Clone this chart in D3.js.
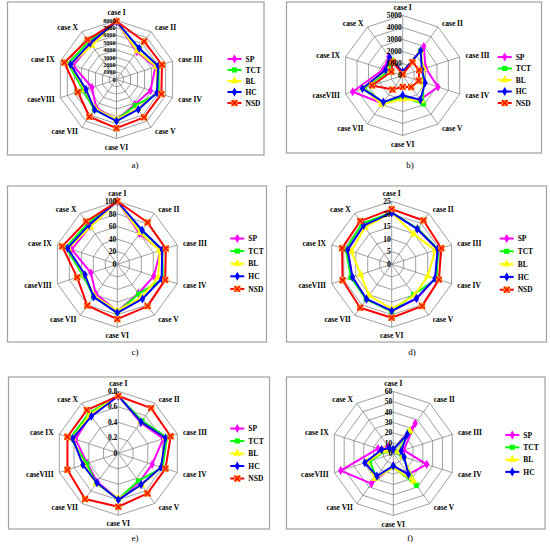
<!DOCTYPE html>
<html><head><meta charset="utf-8">
<script src="https://cdn.jsdelivr.net/npm/d3@7"></script>
<style>body{margin:0;background:#fff}svg{display:block}</style>
</head><body>
<svg id="chart" width="550" height="549"></svg>
<script>
const cases = ["case I","case II","case III","case IV","case V","case VI","case VII","caseVIII","case IX","case X"];
const seriesNames = ["SP","TCT","BL","HC","NSD"];
const seriesColors = ["#FF00FF","#00FF00","#FFFF00","#0000FF","#FF0000"];

// a)
const aSP  = [7850,4660,5550,4850,4200,5500,4700,3500,6200,5900];
const aTCT = [7850,5200,6000,6000,4350,5500,5100,4700,6900,6400];
const aBL  = [7850,4800,5700,5800,4900,5450,4900,4500,6600,5700];
const aHC  = [7850,5230,5940,5770,5020,5630,5060,4350,6560,6100];
const aNSD = [7900,6380,6480,6400,6340,6600,6250,5500,7430,6650];
const aTicks = [0,1000,2000,3000,4000,5000,6000,7000,8000];
// b)
const bSP  = [300,2980,2010,3090,2480,1870,2880,4380,1680,1960];
const bTCT = [300,2520,1780,1780,2930,1780,2800,3370,1220,1640];
const bBL  = [300,2520,1820,1820,2620,1960,2970,3460,1400,1680];
const bHC  = [300,2540,1680,1960,2510,1640,2740,3530,1500,1870];
const bNSD = [100,1380,1450,1400,1200,950,1450,2680,1000,1400];
const bTicks = [0,1000,2000,3000,4000,5000];
// c)
const cSP  = [100,60,72,61,57,75,58,44,76,74];
const cTCT = [100,66,75,76,58,76,64,57,86,80];
const cBL  = [100,62,71,68,65,74,62,55,82,73];
const cHC  = [100,67,75,74,68,77,64,54,83,77];
const cNSD = [100,82,81,80,82,87,81,67,92,84];
const cTicks = [0,20,40,60,80,100];
// d)
const dSP  = [20.5,17.3,19.2,18.2,16.8,18.6,17.1,16.4,18.4,19.0];
const dTCT = [20.5,17.5,19.4,18.7,14.8,18.7,17.2,17.0,19.1,20.0];
const dBL  = [20.5,14.8,18.2,15.1,15.3,17.7,15.3,13.0,16.9,18.1];
const dHC  = [20.5,17.3,19.2,18.1,16.7,18.5,17.0,16.4,18.4,19.0];
const dNSD = [21.9,21.5,20.7,19.7,20.5,21.2,21.3,20.5,20.7,21.2];
const dTicks = [0,5,10,15,20,25];
// e)
const eSP  = [0.74,0.49,0.61,0.46,0.46,0.59,0.46,0.42,0.58,0.61];
const eTCT = [0.74,0.52,0.66,0.60,0.44,0.59,0.48,0.43,0.65,0.64];
const eBL  = [0.74,0.50,0.64,0.58,0.51,0.58,0.48,0.47,0.62,0.62];
const eHC  = [0.74,0.50,0.64,0.58,0.50,0.60,0.47,0.48,0.62,0.59];
const eNSD = [0.74,0.72,0.71,0.64,0.64,0.69,0.73,0.69,0.69,0.69];
const eTicks = [0,0.2,0.4,0.6,0.8];
// f)
const fSP  = [4,36,10.6,34,25,12,36,53.5,15.6,8];
const fTCT = [4,26,5,9,38,13,28,24,8,5];
const fBL  = [4,27,6,10,33,13.5,30,27,9,6];
const fHC  = [4,23,8,11,25,12,27,29,12,6.5];
const fTicks = [0,10,20,30,40,50,60];

const panels = [
  {cap:"a)", box:[7.5,2,256.5,153], cx:116.5, cy:79.5, r:59, ticks:aTicks, tickFont:6.2, series:[aSP,aTCT,aBL,aHC,aNSD], legDx:111, legY0:59, legStep:11, capPos:[135,165]},
  {cap:"b)", box:[286.5,2,255,151], cx:402.7, cy:75.5, r:60, ticks:bTicks, tickFont:7.5, series:[bSP,bTCT,bBL,bHC,bNSD], legDx:95, legY0:57, legStep:11.5, capPos:[410,165]},
  {cap:"c)", box:[7.5,186,259,156], cx:117.3, cy:264.3, r:63, ticks:cTicks, tickFont:7.5, series:[cSP,cTCT,cBL,cHC,cNSD], legDx:113, legY0:238.5, legStep:12.6, capPos:[135,352]},
  {cap:"d)", box:[286.5,186,260,156], cx:391.7, cy:264.3, r:63, ticks:dTicks, tickFont:7.5, series:[dSP,dTCT,dBL,dHC,dNSD], legDx:108, legY0:238.5, legStep:12.8, capPos:[412,352]},
  {cap:"e)", box:[8.5,377,261,152], cx:118.3, cy:453.3, r:62, ticks:eTicks, tickFont:7.5, series:[eSP,eTCT,eBL,eHC,eNSD], legDx:112, legY0:428.5, legStep:12.5, capPos:[135,538]},
  {cap:"f)", box:[286.5,377,258.5,152], cx:393.3, cy:453.5, r:62, ticks:fTicks, tickFont:7.5, series:[fSP,fTCT,fBL,fHC], legDx:112, legY0:435, legStep:12.3, capPos:[410,538]}
];

const svg = d3.select("#chart");
const FONT = "'Liberation Serif','Times New Roman',serif";
const angle = d3.scaleLinear().domain([0, cases.length]).range([0, 2*Math.PI]);

function marker(g, k, x, y) {
  const col = seriesColors[k];
  const tr = `translate(${x},${y})`;
  if (k === 0) {
    g.append("path").attr("d", d3.symbol(d3.symbolDiamond, 24)()).attr("transform", tr).attr("fill", col);
  } else if (k === 1) {
    g.append("path").attr("d", d3.symbol(d3.symbolSquare, 26)()).attr("transform", tr).attr("fill", col);
  } else if (k === 2) {
    g.append("path").attr("d", d3.symbol(d3.symbolTriangle, 28)()).attr("transform", tr).attr("fill", col);
  } else if (k === 3) {
    g.append("path").attr("d", d3.symbol(d3.symbolDiamond, 24)()).attr("transform", tr).attr("fill", col);
  } else {
    g.append("path").attr("d", d3.symbol(d3.symbolSquare, 40)()).attr("transform", tr).attr("fill", "#FF8C1A");
    g.append("path").attr("d", d3.symbol(d3.symbolX, 22)()).attr("transform", tr).attr("fill", "none").attr("stroke", "#FF0000").attr("stroke-width", 1.2);
  }
}

panels.forEach(p => {
  const g = svg.append("g");
  g.append("rect").attr("x", p.box[0]).attr("y", p.box[1]).attr("width", p.box[2]).attr("height", p.box[3])
    .attr("fill", "#fff").attr("stroke", "#a0a0a0").attr("stroke-width", 1.2);
  const max = p.ticks[p.ticks.length - 1];
  const rs = d3.scaleLinear().domain([0, max]).range([0, p.r]);
  const pg = g.append("g").attr("transform", `translate(${p.cx},${p.cy})`);
  // rings
  p.ticks.slice(1).forEach(t => {
    pg.append("path")
      .attr("d", d3.lineRadial().angle((d, i) => angle(i)).radius(() => rs(t)).curve(d3.curveLinearClosed)(cases))
      .attr("fill", "none").attr("stroke", "#868686").attr("stroke-width", 0.8);
  });
  // spokes
  cases.forEach((c, i) => {
    const a = angle(i);
    pg.append("line").attr("x1", 0).attr("y1", 0)
      .attr("x2", p.r * Math.sin(a)).attr("y2", -p.r * Math.cos(a))
      .attr("stroke", "#868686").attr("stroke-width", 0.8);
  });
  // case labels
  cases.forEach((c, i) => {
    const a = angle(i);
    const s = Math.sin(a), co = Math.cos(a);
    const rr = p.r + 5;
    let x = rr * s, y = -rr * co;
    let anchor = "middle";
    if (s > 0.1) { anchor = "start"; x += 1; }
    else if (s < -0.1) { anchor = "end"; x -= 1; }
    let dy = "0.35em";
    if (i === 0) { dy = "-0.05em"; }
    if (i === cases.length / 2) { dy = "0.8em"; }
    pg.append("text").attr("x", x).attr("y", y).attr("dy", dy).attr("text-anchor", anchor)
      .attr("font-family", FONT).attr("font-weight", "bold").attr("font-size", 7.5).attr("fill", "#000").text(c);
  });
  // series
  p.series.forEach((vals, k) => {
    const line = d3.lineRadial().angle((d, i) => angle(i)).radius(d => rs(d)).curve(d3.curveLinearClosed);
    pg.append("path").attr("d", line(vals)).attr("fill", "none")
      .attr("stroke", seriesColors[k]).attr("stroke-width", 2).attr("stroke-linejoin", "round");
    vals.forEach((v, i) => {
      const a = angle(i);
      marker(pg, k, rs(v) * Math.sin(a), -rs(v) * Math.cos(a));
    });
  });
  // tick labels
  p.ticks.forEach(t => {
    pg.append("text").attr("x", -1).attr("y", -rs(t)).attr("dy", "0.35em").attr("text-anchor", "end")
      .attr("font-family", FONT).attr("font-weight", "bold").attr("font-size", p.tickFont).attr("fill", "#000").text(t);
  });
  // legend
  p.series.forEach((vals, k) => {
    const lx = p.cx + p.legDx, ly = p.legY0 + k * p.legStep;
    g.append("line").attr("x1", lx).attr("x2", lx + 14).attr("y1", ly).attr("y2", ly)
      .attr("stroke", seriesColors[k]).attr("stroke-width", 2);
    marker(g, k, lx + 7, ly);
    g.append("text").attr("x", lx + 18).attr("y", ly).attr("dy", "0.35em")
      .attr("font-family", FONT).attr("font-weight", "bold").attr("font-size", 7.5).attr("fill", "#000").text(seriesNames[k]);
  });
  // caption
  svg.append("text").attr("x", p.capPos[0]).attr("y", p.capPos[1]).attr("dy", "0.35em").attr("text-anchor", "middle")
    .attr("font-family", FONT).attr("font-size", 9).attr("fill", "#000").text(p.cap);
});
</script>
</body></html>
